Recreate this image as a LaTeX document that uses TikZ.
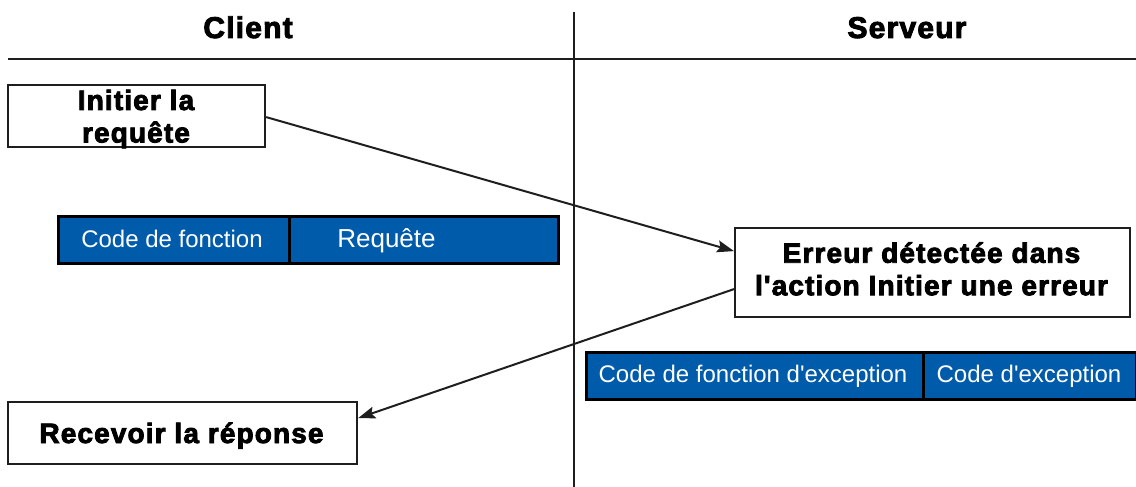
\documentclass[tikz,border=0pt]{standalone}
\usepackage{fontspec}
\usetikzlibrary{arrows.meta}
\newfontfamily\hvb[FakeBold=3,LetterSpace=4]{Liberation Sans Bold}
\newfontfamily\hvr{Liberation Sans}
\definecolor{barblue}{RGB}{0,91,170}
\definecolor{ink}{RGB}{30,30,30}
\begin{document}
\begin{tikzpicture}[x=1pt,y=-1pt,
  box/.style={draw=ink,line width=2.2pt,fill=white,inner sep=0pt,anchor=north west},
  bar/.style={draw=black,line width=2.5pt,fill=barblue,inner sep=0pt,anchor=north west,minimum height=47pt},
  head/.style={font=\hvb\fontsize{30}{34}\selectfont,inner sep=0pt,anchor=base},
  btxt/.style={font=\hvb\fontsize{28}{32.5}\selectfont,inner sep=0pt,align=center},
  wtxt/.style={font=\hvr\fontsize{24}{28}\selectfont,text=white,inner sep=0pt,anchor=base},
  msg/.style={draw=ink,line width=2pt,-{Stealth[length=17pt,width=12pt,inset=3pt]}},
  rule/.style={draw=ink,line width=2pt}]
\useasboundingbox (0,0) rectangle (1136,487);
% swimlane rules
\coordinate (vtop) at (574,12);
\coordinate (vbot) at (574,487);
\coordinate (hl) at (8,59);
\coordinate (hr) at (1136,59);
\draw[rule] (hl) -- (hr);
\draw[rule] (vtop) -- (vbot);
% headers
\node[head] (client) at (248,38) {Client};
\node[head] (serveur) at (907,38) {Serveur};
% boxes
\node[box,minimum width=257pt,minimum height=62pt] (req) at (7,84) {};
\node[btxt,anchor=north] (reqt) at (136,89.5) {Initier la\\requête};
\node[box,minimum width=395pt,minimum height=89pt] (srv) at (734,227) {};
\node[btxt,anchor=north] (srvt) at (931.5,242) {Erreur détectée dans\\l'action Initier une erreur};
\node[box,minimum width=349pt,minimum height=62pt] (rcv) at (7,401) {};
\node[btxt,anchor=base] (rcvt) at (181.5,443) {Recevoir la réponse};
% frames
\node[bar,minimum width=231pt] (fc) at (57,215) {};
\node[bar,minimum width=269pt] (rq) at (288,215) {};
\node[wtxt] (fct) at (172,247) {Code de fonction};
\node[wtxt,font=\hvr\fontsize{26}{30}\selectfont] (rqt) at (386.5,247.5) {Requête};
\node[bar,minimum width=337pt] (efc) at (585,351) {};
\node[bar,minimum width=213pt] (ec) at (922,351) {};
\node[wtxt] (efct) at (753,382) {Code de fonction d'exception};
\node[wtxt] (ect) at (1029,382) {Code d'exception};
% messages
\draw[msg] ([yshift=-1pt]req.east) -- ([yshift=21.5pt]srv.west);
\draw[msg] ([yshift=-16.5pt]srv.west) -- ([yshift=15pt]rcv.east);
\end{tikzpicture}
\end{document}
